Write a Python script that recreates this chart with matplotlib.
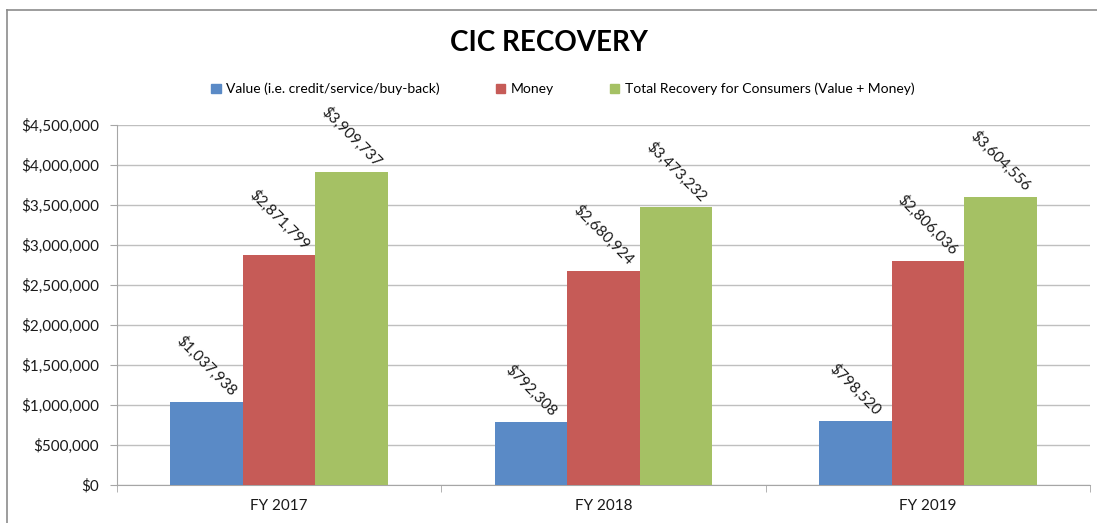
import matplotlib
matplotlib.use("Agg")
import matplotlib.pyplot as plt
from matplotlib.lines import Line2D
import numpy as np

categories = ["FY 2017", "FY 2018", "FY 2019"]
series_names = ["Value (i.e. credit/service/buy-back)", "Money",
                "Total Recovery for Consumers (Value + Money)"]
value = [1037938, 792308, 798520]
money = [2871799, 2680924, 2806036]
total = [3909737, 3473232, 3604556]
series = [value, money, total]
colors = ["#5A8AC6", "#C65B57", "#A5C164"]
yticks = [0, 500000, 1000000, 1500000, 2000000, 2500000, 3000000, 3500000, 4000000, 4500000]

plt.rcParams['font.family'] = ['Lato', 'DejaVu Sans']

W, H = 1097, 523
fig = plt.figure(figsize=(W / 100, H / 100), dpi=100)
ax = fig.add_axes([117 / W, 1 - 485 / H, (1090 - 117) / W, (485 - 125) / H])

x = np.arange(len(categories))
bw = 0.224
for i, (vals, c) in enumerate(zip(series, colors)):
    pos = x + (i - 1) * bw
    ax.bar(pos, vals, width=bw, color=c, edgecolor='none', zorder=3)
    for p, v in zip(pos, vals):
        ax.annotate(f"${v:,.0f}", xy=(p, v), xytext=(0, 2), textcoords='offset points',
                    ha='center', va='bottom', rotation=-45, fontsize=11, color='#1A1A1A')

ax.set_xlim(-0.5, 2.5)
ax.set_ylim(0, 4500000)
ax.set_yticks(yticks)
ax.set_yticklabels([f"${t:,.0f}" for t in yticks], fontsize=11, color='#1A1A1A')
ax.yaxis.grid(True, color='#BFBFBF', linewidth=1.0, zorder=0)
ax.set_axisbelow(True)

ax.set_xticks(x)
ax.set_xticklabels(categories, fontsize=11, color='#1A1A1A')
ax.tick_params(axis='x', length=0, pad=10)
ax.set_xticks([-0.5, 0.5, 1.5, 2.5], minor=True)
ax.tick_params(axis='x', which='minor', length=5, color='#A6A6A6', direction='out')
ax.tick_params(axis='y', length=5, color='#A6A6A6', direction='out', pad=8)

for s in ['top', 'right']:
    ax.spines[s].set_visible(False)
ax.spines['left'].set_color('#A6A6A6')
ax.spines['bottom'].set_color('#A6A6A6')

fig.text(0.5, 1 - 43 / H, "CIC RECOVERY", ha='center', va='center', fontsize=20, fontweight='bold')

handles = [plt.Rectangle((0, 0), 1, 1, color=c) for c in colors]
fig.legend(handles, series_names, loc='center', bbox_to_anchor=(0.513, 1 - 89 / H), ncol=3,
           frameon=False, fontsize=10, handlelength=0.7, handleheight=0.7, handletextpad=0.4,
           columnspacing=4.0)

# chart border (partially cropped)
fig.add_artist(Line2D([7 / W, 7 / W], [0, 1 - 10 / H], transform=fig.transFigure, color='#8C8C8C', lw=1.2))
fig.add_artist(Line2D([7 / W, 1], [1 - 10 / H, 1 - 10 / H], transform=fig.transFigure, color='#8C8C8C', lw=1.2))

fig.savefig("out.png", dpi=100)
